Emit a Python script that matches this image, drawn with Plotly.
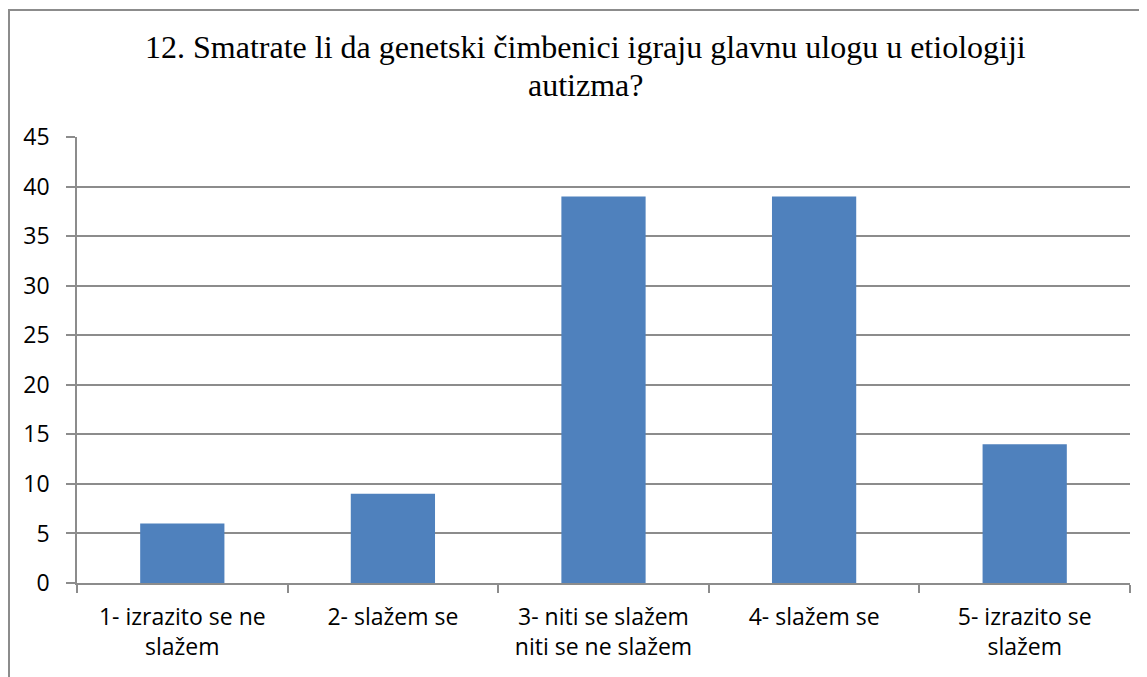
import plotly.graph_objects as go

categories = ["1- izrazito se ne<br>slažem", "2- slažem se", "3- niti se slažem<br>niti se ne slažem",
              "4- slažem se", "5- izrazito se<br>slažem"]
values = [6, 9, 39, 39, 14]
y_ticks = [0, 5, 10, 15, 20, 25, 30, 35, 40, 45]
title_lines = ["12. Smatrate li da genetski čimbenici igraju glavnu ulogu u etiologiji", "autizma?"]

# page body has an 8px margin, so figure coordinates = reference - 8
W, H = 1139, 669
L, R, T, B = 69, 1122, 129, 575
pw, ph = R - L, B - T


def px_x(x):
    return (x - L) / pw


def px_y(y):
    return (B - y) / ph


fig = go.Figure(go.Bar(x=categories, y=values, marker=dict(color="#4F81BD", line=dict(width=0)),
                       width=0.4))

fig.update_layout(
    width=W, height=H,
    margin=dict(l=L, r=W - R, t=T, b=H - B, pad=0),
    paper_bgcolor="white", plot_bgcolor="white",
    showlegend=False,
    font=dict(family="Open Sans", size=23, color="#000000"),
    bargap=0.6,
)
fig.update_yaxes(range=[0, 45], tickvals=y_ticks, showgrid=True, gridcolor="#8C8C8C", gridwidth=1.5,
                 zeroline=False, showline=True, linecolor="#8C8C8C", linewidth=1.5,
                 ticks="outside", ticklen=9, tickcolor="#8C8C8C", tickwidth=1.5,
                 tickfont=dict(family="Open Sans", size=23), ticklabelstandoff=12)
fig.update_xaxes(showline=True, linecolor="#8C8C8C", linewidth=1.5, ticks="outside",
                 tickson="boundaries", ticklen=8, tickcolor="#8C8C8C", tickwidth=1.5,
                 tickfont=dict(family="Open Sans", size=23), ticklabelstandoff=13)

# title as two centred lines
for line, ymid in zip(title_lines, [47 - 8, 85 - 8]):
    fig.add_annotation(text=line, xref="paper", yref="paper", x=px_x(577), y=px_y(ymid),
                       xanchor="center", yanchor="middle", showarrow=False,
                       font=dict(family="Liberation Serif", size=32, color="#000000"))

# outer chart frame
fig.add_shape(type="rect", xref="paper", yref="paper",
              x0=px_x(1), x1=px_x(1200), y0=px_y(700), y1=px_y(2),
              line=dict(color="#8C8C8C", width=2), fillcolor="rgba(0,0,0,0)", layer="below")

fig.write_html("out.html")
